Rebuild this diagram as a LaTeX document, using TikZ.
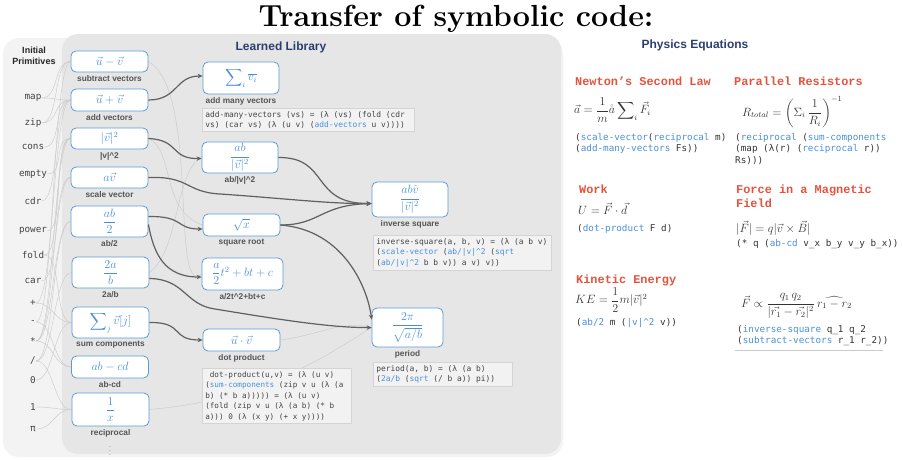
\documentclass[tikz,border=0pt]{standalone}
\usepackage{fontspec}
\usepackage{amsmath}
\usetikzlibrary{calc,positioning,arrows.meta}
\setsansfont{Liberation Sans}
\setmonofont{DejaVu Sans Mono}
\newfontfamily\headfont{Liberation Mono}
\definecolor{color_panel_outer}{HTML}{F3F3F3}
\definecolor{color_panel_inner}{HTML}{E6E6E6}
\definecolor{color_box}{HTML}{5B9BD5}
\definecolor{color_math}{HTML}{4A8FD8}
\definecolor{color_link}{HTML}{606060}
\definecolor{color_faint}{HTML}{CBCBCB}
\definecolor{color_label}{HTML}{555555}
\definecolor{color_title}{HTML}{2B3F6E}
\definecolor{color_head}{HTML}{E5533D}
\definecolor{color_code_fill}{HTML}{F2F2F2}
\definecolor{color_code_line}{HTML}{D4D4D4}
\definecolor{color_code_text}{HTML}{444444}
\definecolor{color_code_blue}{HTML}{4A90D9}
\definecolor{color_eq}{HTML}{333333}
\newcommand{\libcall}[1]{\textcolor{color_code_blue}{#1}}
\pgfdeclarelayer{panels}
\pgfdeclarelayer{wires}
\pgfsetlayers{panels,wires,main}

\begin{document}
\begin{tikzpicture}[x=1pt,y=-1pt,
		every node/.style={inner sep=0pt},
		libbox/.style={draw=color_box,fill=white,rounded corners=5pt,line width=0.8pt,
			text=color_math,font=\fontsize{11.5}{13}\selectfont},
		liblabel/.style={text=color_label,font=\sffamily\bfseries\fontsize{8.3}{9.5}\selectfont},
		codebox/.style={draw=color_code_line,fill=color_code_fill,line width=0.5pt,inner sep=3pt,
			align=left,anchor=north west,text=color_code_text,font=\ttfamily\fontsize{7.9}{10.4}\selectfont,
			execute at begin node={\spaceskip=0.602em\relax}},
		prim/.style={text=color_code_text,font=\ttfamily\fontsize{9.3}{11}\selectfont},
		heading/.style={text=color_title,font=\sffamily\bfseries\fontsize{12}{14}\selectfont},
		lawname/.style={anchor=base west,align=left,text=color_head,font=\headfont\bfseries\fontsize{11.9}{13.5}\selectfont},
		law/.style={anchor=west,text=color_eq,font=\fontsize{12}{14}\selectfont},
		lawcode/.style={anchor=north west,align=left,text=color_eq,font=\ttfamily\fontsize{9.3}{11.6}\selectfont,
			execute at begin node={\spaceskip=0.602em\relax}},
		link/.style={draw=color_link,line width=1.2pt,-{Stealth[length=5pt,width=4.5pt]}},
		faint/.style={draw=color_faint,line width=0.45pt}]
	\useasboundingbox (0, 0) rectangle (903, 459);

	% Title
	\node[anchor=base,font=\fontsize{30.5}{32}\selectfont\bfseries] (title) at (456, 26) {Transfer of symbolic code:};

	% Panels
	\begin{pgfonlayer}{panels}
		\fill[color_panel_outer,rounded corners=16pt] (3, 38) rectangle (563, 457);
		\fill[color_panel_inner,rounded corners=16pt] (62, 34) rectangle (561, 454);
	\end{pgfonlayer}
	\node[heading,align=center,text=black!85,font=\sffamily\bfseries\fontsize{9}{11.5}\selectfont] (primhead) at (34, 56) {Initial\\Primitives};
	\node[heading] (libhead) at (281, 47) {Learned Library};
	\node[heading] (physhead) at (695, 45) {Physics Equations};

	% Initial primitives
	\foreach \txt/\y [count=\i] in {map/98, zip/123, cons/147, empty/174, cdr/201, power/231,
		fold/255, car/281, +/303, -/322, */341, \slash/361, 0/380, 1/407, π/429}
		\node[prim] (p\i) at (33, \y) {\txt};

	% Library, first column
	\node[libbox,minimum width=77pt,minimum height=21pt] (subv) at (109.5, 61.5) {$\vec u-\vec v$};
	\node[liblabel,below=2.5pt of subv] (subvlbl) {subtract vectors};
	\node[libbox,minimum width=77pt,minimum height=22pt] (addv) at (109.5, 100) {$\vec u+\vec v$};
	\node[liblabel,below=2.5pt of addv] (addvlbl) {add vectors};
	\node[libbox,minimum width=77pt,minimum height=21pt] (normsq) at (109.5, 138.5) {$|\vec v|^2$};
	\node[liblabel,below=2.5pt of normsq] (normsqlbl) {|v|\textasciicircum 2};
	\node[libbox,minimum width=77pt,minimum height=21pt] (scalev) at (109.5, 177.5) {$a\vec v$};
	\node[liblabel,below=2.5pt of scalev] (scalevlbl) {scale vector};
	\node[libbox,minimum width=77pt,minimum height=31pt] (abhalf) at (109.5, 221.5) {$\dfrac{ab}{2}$};
	\node[liblabel,below=2.5pt of abhalf] (abhalflbl) {ab/2};
	\node[libbox,minimum width=77pt,minimum height=31pt] (twoab) at (110.5, 272.5) {$\dfrac{2a}{b}$};
	\node[liblabel,below=2.5pt of twoab] (twoablbl) {2a/b};
	\node[libbox,minimum width=77pt,minimum height=31pt] (sumcomp) at (110.5, 322.5) {$\displaystyle\sum\nolimits_j \vec v[j]$};
	\node[liblabel,below=2.5pt of sumcomp] (sumcomplbl) {sum components};
	\node[libbox,minimum width=77pt,minimum height=22pt] (abcd) at (110, 367) {$ab-cd$};
	\node[liblabel,below=2.5pt of abcd] (abcdlbl) {ab-cd};
	\node[libbox,minimum width=77pt,minimum height=33pt] (recip) at (110.5, 409.5) {$\dfrac{1}{x}$};
	\node[liblabel,below=2.5pt of recip] (reciplbl) {reciprocal};
	\node[text=color_label,font=\fontsize{8}{9}\selectfont] (more) at (110, 448) {$\vdots$};

	% Library, second column
	\node[libbox,minimum width=76pt,minimum height=32pt] (addmany) at (241, 78) {$\displaystyle\sum\nolimits_i \overline{v_i}$};
	\node[liblabel,below=2.5pt of addmany] (addmanylbl) {add many vectors};
	\node[codebox,text width=206pt] (addmanycode) at (202, 108)
		{add-many-vectors (vs) = (λ (vs) (fold (cdr\\vs) (car vs) (λ (u v) (\libcall{add-vectors} u v))))};
	\node[libbox,minimum width=76pt,minimum height=31pt] (abnorm) at (240, 157.5) {$\dfrac{ab}{|\vec v|^2}$};
	\node[liblabel,below=2.5pt of abnorm] (abnormlbl) {ab/|v|\textasciicircum 2};
	\node[libbox,minimum width=77pt,minimum height=22pt] (sqrtx) at (241.5, 225) {$\sqrt{x}$};
	\node[liblabel,below=2.5pt of sqrtx] (sqrtxlbl) {square root};
	\node[libbox,minimum width=81pt,minimum height=32pt] (quad) at (242.5, 274) {$\dfrac{a}{2}t^2+bt+c$};
	\node[liblabel,below=2.5pt of quad] (quadlbl) {a/2t\textasciicircum 2+bt+c};
	\node[libbox,minimum width=77pt,minimum height=22pt] (dotp) at (241.5, 340) {$\vec u\cdot\vec v$};
	\node[liblabel,below=2.5pt of dotp] (dotplbl) {dot product};
	\node[codebox,text width=143pt,font=\ttfamily\fontsize{7.65}{10.5}\selectfont] (dotpcode) at (202, 368)
		{\ dot-product(u,v) = (λ (u v)\\(\libcall{sum-components} (zip v u (λ (a\\b) (* b a))))) = (λ (u v)\\(fold (zip v u (λ (a b) (* b\\a))) 0 (λ (x y) (+ x y))))};

	% Library, third column
	\node[libbox,minimum width=76pt,minimum height=35pt] (invsq) at (410, 199.5) {$\dfrac{ab\hat v}{|\vec v|^2}$};
	\node[liblabel,below=2.5pt of invsq] (invsqlbl) {inverse square};
	\node[codebox,text width=172pt] (invsqcode) at (373, 235)
		{inverse-square(a, b, v) = (λ (a b v)\\(\libcall{scale-vector} (\libcall{ab/|v|\textasciicircum 2} (\libcall{sqrt}\\(\libcall{ab/|v|\textasciicircum 2} b b v)) a v) v))};
	\node[libbox,minimum width=71pt,minimum height=39pt] (period) at (407.5, 327.5) {$\dfrac{2\pi}{\sqrt{a/b}}$};
	\node[liblabel,below=2.5pt of period] (periodlbl) {period};
	\node[codebox,text width=133pt] (periodcode) at (373, 362)
		{period(a, b) = (λ (a b)\\(\libcall{2a/b} (\libcall{sqrt} (/ b a)) pi))};

	% Faint wires from primitives
	\begin{pgfonlayer}{wires}
		\foreach \i/\dst in {1/subv, 1/addv, 2/addv, 2/subv, 3/addv, 4/normsq, 5/addv, 6/normsq,
			7/sumcomp, 7/normsq, 8/scalev, 9/addv, 9/sumcomp, 10/subv, 10/abcd, 11/scalev,
			11/abhalf, 11/abcd, 11/normsq, 12/abhalf, 12/twoab, 12/recip, 13/sumcomp, 14/recip, 15/recip}
			\draw[faint] (p\i.east) .. controls +(18,0) and +(-18,0) .. (\dst.west);
		\draw[faint] (subv.east) .. controls (200,90) and (170,300) .. (quad.west);
		\draw[faint] (normsq.east) .. controls (175,150) and (160,210) .. (sqrtx.west);
		\draw[faint] (recip.east) .. controls (260,400) and (320,360) .. (period.west);
		\draw[faint] (dotp.east) .. controls (320,335) and (340,320) .. (period.west);
		\draw[faint] (twoab.east) .. controls (180,250) and (175,170) .. (abnorm.west);
	\end{pgfonlayer}

	% Points
	\coordinate (invin) at ($(invsq.west)+(0, 4)$);

	% Learned links
	\draw[link] (addv.east) .. controls (178, 100) and (175, 76) .. ($(addmany.west)+(0, -2)$);
	\draw[link] (normsq.east) .. controls (180, 140) and (170, 159) .. ($(abnorm.west)+(0, 1)$);
	\draw[link] (scalev.east) .. controls (190, 176) and (185, 192) .. (220, 194)
		.. controls (280, 198) and (330, 204) .. (invin);
	\draw[link] ($(abhalf.east)+(0, -5)$) .. controls (185, 216) and (175, 229) .. ($(sqrtx.west)+(0, 4)$);
	\draw[link] ($(abhalf.east)+(0, 3)$) .. controls (154, 255) and (165, 277) .. ($(quad.west)+(0, 3)$);
	\draw[link] ($(twoab.east)+(0, 6)$) .. controls (185, 279) and (185, 305) .. (215, 309)
		.. controls (270, 318) and (330, 328) .. (period.west);
	\draw[link] (sumcomp.east) .. controls (185, 322) and (170, 340) .. (dotp.west);
	\draw[link] (abnorm.east) .. controls (330, 157) and (310, 204) .. (invin);
	\draw[link] (sqrtx.east) .. controls (320, 225) and (320, 205) .. (invin);
	\draw[link] (sqrtx.east) .. controls (345, 230) and (368, 290) .. ($(period.north west)+(0, 12)$);

	% Physics equations
	\node[lawname] (newtonname) at (575, 85) {Newton’s Second Law};
	\node[law] (newton) at (574, 110) {$\vec a=\dfrac{1}{m}\mathring{a}\displaystyle\sum\nolimits_i \vec F_i$};
	\node[lawcode] (newtoncode) at (575, 133) {(\libcall{scale-vector}(\libcall{reciprocal} m)\\(\libcall{add-many-vectors} Fs))};

	\node[lawname] (resistname) at (734, 85) {Parallel Resistors};
	\node[law] (resist) at (742, 112) {$R_{total}=\left(\Sigma_i\,\dfrac{1}{R_i}\right)^{-1}$};
	\node[lawcode] (resistcode) at (735, 133) {(\libcall{reciprocal} (\libcall{sum-components}\\(map (λ(r) (\libcall{reciprocal} r))\\Rs)))};

	\node[lawname] (workname) at (579, 193) {Work};
	\node[law] (work) at (578, 209) {$U=\vec F\cdot\vec d$};
	\node[lawcode] (workcode) at (577, 224) {(\libcall{dot-product} F d)};

	\node[lawname] (forcename) at (736, 207) {Force in a Magnetic\\Field};
	\node[law] (force) at (736, 228) {$|\vec F|=q|\vec v\times\vec B|$};
	\node[lawcode] (forcecode) at (736, 239) {(* q (\libcall{ab-cd} v\_x b\_y v\_y b\_x))};

	\node[lawname] (kinname) at (576, 283) {Kinetic Energy};
	\node[law] (kin) at (575, 300) {$KE=\dfrac{1}{2}m|\vec v|^2$};
	\node[lawcode] (kincode) at (576, 318) {(\libcall{ab/2} m (\libcall{|v|\textasciicircum 2} v))};

	\node[law] (coulomb) at (741, 306) {$\vec F\propto\dfrac{q_1\,q_2}{|\vec{r_1}-\vec{r_2}|^2}\,\widehat{r_1-r_2}$};
	\node[lawcode] (coulombcode) at (737, 325) {(\libcall{inverse-square} q\_1 q\_2\\(\libcall{subtract-vectors} r\_1 r\_2))};
	\draw[color_faint,line width=0.8pt] ($(coulombcode.south west)+(-2, 4)$) -- ($(coulombcode.south east)+(-6, 4)$);
\end{tikzpicture}
\end{document}
